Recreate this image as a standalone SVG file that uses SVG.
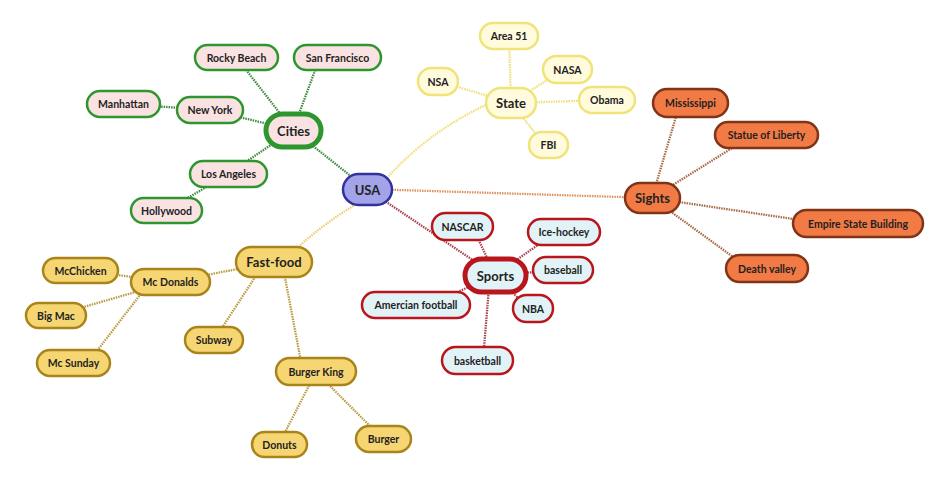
<svg xmlns="http://www.w3.org/2000/svg" width="948" height="480" viewBox="0 0 948 480">
<style>
text{font-family:Lato,"Open Sans","Liberation Sans",sans-serif;font-weight:bold;font-size:10.5px;fill:#222;text-anchor:middle;dominant-baseline:central}
.big{font-size:13px}
.ln{fill:none;stroke-width:2.3;stroke-dasharray:1.5 1}
.lg{stroke:#3e8a3e}.ly{stroke:#eee07a}.lo{stroke:#a86a44}.lr{stroke:#a8404a}.lf{stroke:#b89a40}
.c rect{fill:#fbe2e2;stroke:#2e962e;stroke-width:2.5}
.s rect{fill:#fffbdc;stroke:#efe37a;stroke-width:2.5}
.o rect{fill:#f27a44;stroke:#7f3418;stroke-width:2.5}
.p rect{fill:#e2f3f8;stroke:#b8161c;stroke-width:2.5}
.f rect{fill:#f6d672;stroke:#a8841a;stroke-width:2.5}
.thick rect{stroke-width:5}
</style>
<rect width="948" height="480" fill="#fff"/>
<g id="connectors">
<line class="ln lg" x1="367" y1="189" x2="293" y2="130"/>
<line class="ln lg" x1="293" y1="130" x2="236" y2="57"/>
<line class="ln lg" x1="293" y1="130" x2="320" y2="57"/>
<line class="ln lg" x1="293" y1="130" x2="210" y2="110"/>
<line class="ln lg" x1="210" y1="110" x2="123" y2="104"/>
<line class="ln lg" x1="293" y1="130" x2="228" y2="174"/>
<line class="ln lg" x1="228" y1="174" x2="166" y2="211"/>
<path class="ln ly" d="M385 180 Q430 130 490 103"/>
<line class="ln ly" x1="511" y1="103" x2="509" y2="36"/>
<line class="ln ly" x1="511" y1="103" x2="438" y2="81"/>
<line class="ln ly" x1="511" y1="103" x2="560" y2="72"/>
<line class="ln ly" x1="511" y1="103" x2="607" y2="100"/>
<line class="ln ly" x1="511" y1="103" x2="545" y2="145"/>
<line class="ln lo" x1="367" y1="189" x2="652" y2="198" style="stroke:#df915a"/>
<line class="ln lo" x1="652" y1="198" x2="680" y2="103"/>
<line class="ln lo" x1="652" y1="198" x2="745" y2="140"/>
<line class="ln lo" x1="652" y1="198" x2="800" y2="220"/>
<line class="ln lo" x1="652" y1="198" x2="740" y2="262"/>
<line class="ln lr" x1="367" y1="189" x2="495" y2="275"/>
<line class="ln lr" x1="495" y1="275" x2="475" y2="232"/>
<line class="ln lr" x1="495" y1="275" x2="545" y2="240"/>
<line class="ln lr" x1="495" y1="275" x2="563" y2="270"/>
<line class="ln lr" x1="495" y1="275" x2="440" y2="300"/>
<line class="ln lr" x1="495" y1="275" x2="525" y2="305"/>
<line class="ln lr" x1="490" y1="275" x2="483" y2="360"/>
<path class="ln lf" d="M360 202 Q320 225 290 255" style="stroke:#f0cc78"/>
<line class="ln lf" x1="274" y1="262" x2="170" y2="282"/>
<line class="ln lf" x1="265" y1="262" x2="214" y2="340"/>
<line class="ln lf" x1="282" y1="262" x2="303" y2="372"/>
<line class="ln lf" x1="170" y1="282" x2="80" y2="270"/>
<line class="ln lf" x1="170" y1="282" x2="56" y2="315"/>
<line class="ln lf" x1="150" y1="282" x2="90" y2="360"/>
<line class="ln lf" x1="316" y1="372" x2="279" y2="444"/>
<line class="ln lf" x1="316" y1="372" x2="383" y2="439"/>
</g>
<g id="usa"><rect x="343" y="174" width="49" height="31" rx="15.5" fill="#a3a3ea" stroke="#32329e" stroke-width="2.5"/><text x="367.5" y="189.5" class="big">USA</text></g>
<g id="cities" class="c thick"><rect x="266" y="114" width="55" height="33" rx="16.5"/><text x="293.5" y="130.5" class="big">Cities</text></g>
<g id="rockybeach" class="c"><rect x="195" y="45" width="83" height="25" rx="12.5"/><text x="236.5" y="57.5">Rocky Beach</text></g>
<g id="sanfrancisco" class="c"><rect x="294" y="45" width="87" height="25" rx="12.5"/><text x="337.5" y="57.5">San Francisco</text></g>
<g id="manhattan" class="c"><rect x="87" y="91" width="73" height="26" rx="13"/><text x="123.5" y="104">Manhattan</text></g>
<g id="newyork" class="c"><rect x="177" y="97" width="66" height="26" rx="13"/><text x="210" y="110">New York</text></g>
<g id="losangeles" class="c"><rect x="190" y="161" width="77" height="26" rx="13"/><text x="228.5" y="174">Los Angeles</text></g>
<g id="hollywood" class="c"><rect x="131" y="198" width="71" height="25" rx="12.5"/><text x="166.5" y="210.5">Hollywood</text></g>
<g id="state" class="s"><rect x="486" y="88" width="50" height="30" rx="15"/><text x="511" y="103" class="big">State</text></g>
<g id="area51" class="s"><rect x="480" y="23" width="58" height="26" rx="13"/><text x="509" y="36">Area 51</text></g>
<g id="nsa" class="s"><rect x="418" y="68" width="40" height="27" rx="13.5"/><text x="438" y="81.5">NSA</text></g>
<g id="nasa" class="s"><rect x="543" y="56" width="49" height="27" rx="13.5"/><text x="567.5" y="69.5">NASA</text></g>
<g id="obama" class="s"><rect x="579" y="87" width="56" height="26" rx="13"/><text x="607" y="100">Obama</text></g>
<g id="fbi" class="s"><rect x="529" y="132" width="39" height="26" rx="13"/><text x="548.5" y="145">FBI</text></g>
<g id="sights" class="o"><rect x="625" y="183" width="55" height="30" rx="15"/><text x="652.5" y="198" class="big">Sights</text></g>
<g id="mississippi" class="o"><rect x="653" y="89" width="75" height="28" rx="14"/><text x="690.5" y="103">Mississippi</text></g>
<g id="statueofliberty" class="o"><rect x="715" y="122" width="103" height="26" rx="13"/><text x="766.5" y="135">Statue of Liberty</text></g>
<g id="empirestatebuilding" class="o"><rect x="793" y="210" width="130" height="27" rx="13.5"/><text x="858" y="223.5">Empire State Building</text></g>
<g id="deathvalley" class="o"><rect x="726" y="255" width="82" height="27" rx="13.5"/><text x="767" y="268.5">Death valley</text></g>
<g id="sports" class="p thick"><rect x="465" y="259" width="61" height="33" rx="16.5"/><text x="495.5" y="275.5" class="big">Sports</text></g>
<g id="nascar" class="p"><rect x="432" y="213" width="61" height="27" rx="13.5"/><text x="462.5" y="226.5">NASCAR</text></g>
<g id="icehockey" class="p"><rect x="528" y="219" width="72" height="26" rx="13"/><text x="564" y="232">Ice-hockey</text></g>
<g id="baseball" class="p"><rect x="533" y="257" width="60" height="26" rx="13"/><text x="563" y="270">baseball</text></g>
<g id="amercianfootball" class="p"><rect x="362" y="292" width="108" height="26" rx="13"/><text x="416" y="305">Amercian football</text></g>
<g id="nba" class="p"><rect x="513" y="295" width="40" height="27" rx="13.5"/><text x="533" y="308.5">NBA</text></g>
<g id="basketball" class="p"><rect x="442" y="347" width="71" height="27" rx="13.5"/><text x="477.5" y="360.5">basketball</text></g>
<g id="fastfood" class="f"><rect x="236" y="247" width="76" height="30" rx="15"/><text x="274" y="262" class="big">Fast-food</text></g>
<g id="mcdonalds" class="f"><rect x="131" y="269" width="79" height="26" rx="13"/><text x="170.5" y="282">Mc Donalds</text></g>
<g id="mcchicken" class="f"><rect x="43" y="258" width="75" height="25" rx="12.5"/><text x="80.5" y="270.5">McChicken</text></g>
<g id="bigmac" class="f"><rect x="26" y="303" width="60" height="25" rx="12.5"/><text x="56" y="315.5">Big Mac</text></g>
<g id="mcsunday" class="f"><rect x="37" y="350" width="73" height="26" rx="13"/><text x="73.5" y="363">Mc Sunday</text></g>
<g id="subway" class="f"><rect x="185" y="327" width="58" height="26" rx="13"/><text x="214" y="340">Subway</text></g>
<g id="burgerking" class="f"><rect x="276" y="358" width="80" height="27" rx="13.5"/><text x="316" y="371.5">Burger King</text></g>
<g id="donuts" class="f"><rect x="252" y="432" width="55" height="25" rx="12.5"/><text x="279.5" y="444.5">Donuts</text></g>
<g id="burger" class="f"><rect x="356" y="426" width="55" height="26" rx="13"/><text x="383.5" y="439">Burger</text></g>
</svg>
